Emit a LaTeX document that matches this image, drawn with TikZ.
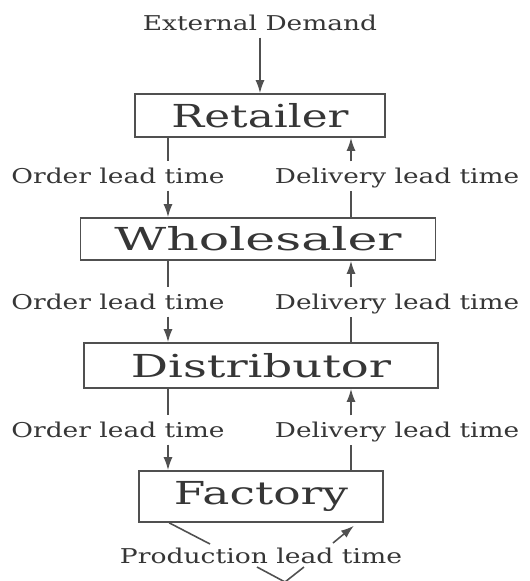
\documentclass[tikz,border=0pt]{standalone}
\usepackage{graphicx}
\usepackage{fontspec}
\setmainfont{DejaVu Serif}
\usetikzlibrary{shapes,backgrounds}
\usetikzlibrary{arrows.meta}

\definecolor{linegray}{HTML}{505050}
\definecolor{textgray}{HTML}{363636}
\newcommand{\wtxt}[2]{\resizebox{#1}{\height}{#2}}

\tikzset{
  stage/.style={draw=linegray, line width=0.45pt, inner sep=0pt,
    text=textgray, font=\fontsize{9}{11}\selectfont},
  lead/.style={text=textgray, font=\fontsize{5.8}{7}\selectfont,
    text height=0.15cm, text depth=0pt, inner xsep=0pt, inner ysep=0.065cm},
  flow/.style={draw=linegray, line width=0.45pt},
  flowarrow/.style={flow, -{Latex[length=0.13cm,width=0.09cm]}}
}

\begin{document}
\begin{tikzpicture}[x=0.01cm, y=-0.01cm]
\useasboundingbox (0,0) rectangle (529,581);
% the four stages
\node[stage, minimum width=2.50cm, minimum height=0.43cm] (retailer) at (260,115.5) {\wtxt{1.77cm}{Retailer}};
\node[stage, minimum width=3.55cm, minimum height=0.42cm] (wholesaler) at (258,239) {\wtxt{2.87cm}{Wholesaler}};
\node[stage, minimum width=3.54cm, minimum height=0.45cm] (distributor) at (261,365.5) {\wtxt{2.60cm}{Distributor}};
\node[stage, minimum width=2.44cm, minimum height=0.51cm] (factory) at (261,496.5) {\wtxt{1.74cm}{Factory}};
% lead time labels
\node[lead] (ext) at (260,23) {\wtxt{2.34cm}{External Demand}};
\foreach \y/\n in {176/1,302/2,430/3}{
  \node[lead] (order\n) at (118,\y) {\wtxt{2.13cm}{Order lead time}};
  \node[lead] (deliv\n) at (397,\y) {\wtxt{2.44cm}{Delivery lead time}};
}
\node[lead] (prod) at (261,556) {\wtxt{2.82cm}{Production lead time}};
% edit here for the two vertical lines
\coordinate (lx) at (168,0);
\coordinate (rx) at (351,0);
\draw[flowarrow] (ext.south) -- (retailer.north);
\foreach \up/\lo/\n in {retailer/wholesaler/1,wholesaler/distributor/2,distributor/factory/3}{
  \draw[flow] (\up.south -| lx) -- (order\n.north -| lx);
  \draw[flowarrow] (order\n.south -| lx) -- (\lo.north -| lx);
  \draw[flow] (\lo.north -| rx) -- (deliv\n.south -| rx);
  \draw[flowarrow] (deliv\n.north -| rx) -- (\up.south -| rx);
}
% production loop under the factory
\coordinate (pl) at (210,544);
\coordinate (pr) at (333,543);
\coordinate (vl) at (257,567);
\coordinate (vr) at (304,567);
\coordinate (vtip) at (285,582);
\draw[flow] ([xshift=0.31cm]factory.south west) -- (pl);
\draw[flowarrow] (pr) -- ([xshift=-0.3cm,yshift=-0.03cm]factory.south east);
\draw[flow] (vl) -- (vtip) -- (vr);
\end{tikzpicture}
\end{document}
